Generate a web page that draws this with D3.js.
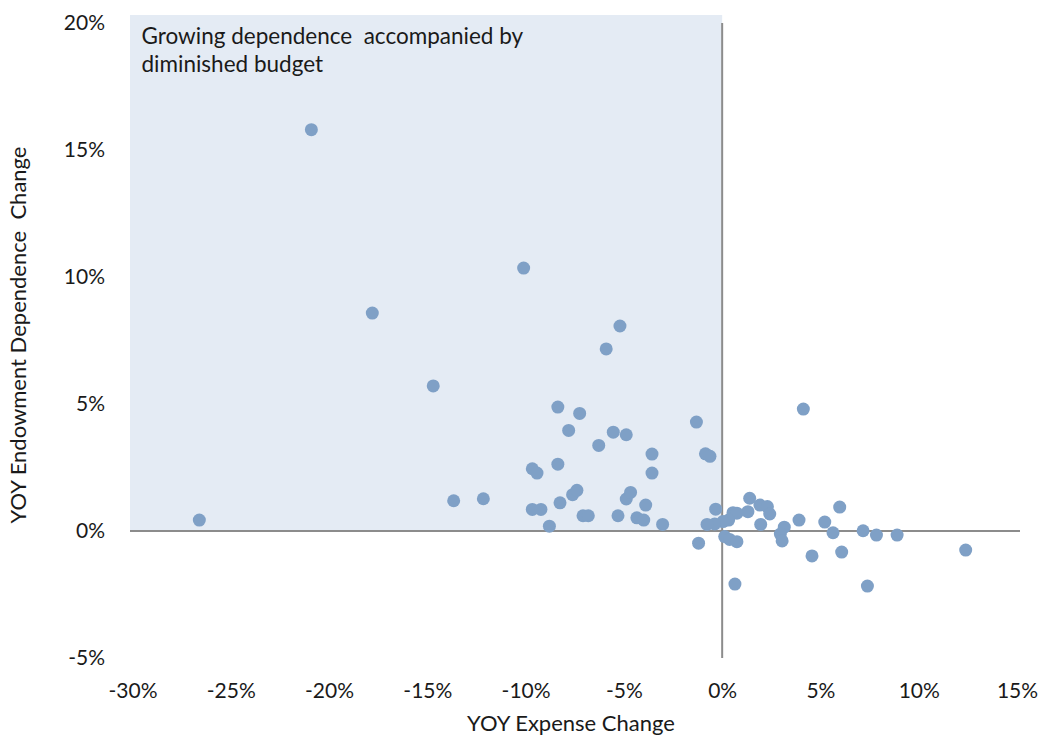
<!DOCTYPE html>
<html><head><meta charset="utf-8">
<script src="https://cdn.jsdelivr.net/npm/d3@7"></script>
<style>body{margin:0;background:#fff}svg{display:block}text{font-family:Lato,"Open Sans",sans-serif;fill:#1a1a1a}</style>
</head><body><svg id="c" width="1043" height="736"></svg>
<script>
const expenseChange = [-26.6,-20.9,-17.8,-14.7,-13.66,-12.15,-10.1,-5.2,-5.9,-8.36,-7.25,-7.81,-5.54,-4.88,-6.28,-3.57,-3.57,-1.31,-0.85,-0.62,-9.66,-9.42,-8.36,-9.66,-9.22,-8.79,-8.25,-7.61,-7.39,-7.08,-6.81,-5.30,-4.88,-4.66,-3.89,-4.34,-3.99,-3.03,-0.33,-1.20,4.13,1.40,1.92,2.30,2.42,1.31,1.96,0.55,0.75,0.33,0.04,-0.38,-0.77,0.13,0.38,0.75,0.65,3.16,2.96,3.05,3.91,4.57,5.22,5.64,5.98,6.08,7.17,7.39,7.85,8.90,12.39];
const dependenceChange = [0.43,15.8,8.58,5.71,1.19,1.27,10.35,8.07,7.17,4.88,4.63,3.96,3.89,3.79,3.37,3.03,2.28,4.29,3.04,2.94,2.45,2.28,2.63,0.85,0.85,0.19,1.11,1.43,1.60,0.60,0.60,0.60,1.26,1.52,1.02,0.52,0.43,0.26,0.86,-0.48,4.80,1.29,1.02,0.96,0.67,0.76,0.26,0.72,0.70,0.43,0.37,0.28,0.26,-0.22,-0.33,-0.42,-2.09,0.15,-0.12,-0.39,0.43,-0.98,0.35,-0.07,0.94,-0.83,0.01,-2.17,-0.16,-0.16,-0.75];
const xTicks = [-30,-25,-20,-15,-10,-5,0,5,10,15];
const yTicks = [-5,0,5,10,15,20];
const annotationLines = ["Growing dependence  accompanied by","diminished budget"];

const svg = d3.select("#c");
const x = d3.scaleLinear().domain([-30,15]).range([132.5,1017]);
const y = d3.scaleLinear().domain([-5,20]).range([658,23]);

// shaded quadrant
svg.append("rect").attr("x",x(-30)-2.5).attr("y",y(20)-8)
  .attr("width",x(0)-x(-30)+2.5).attr("height",y(0)-y(20)+8)
  .attr("fill","#e4ebf4");

// annotation
const ann = svg.append("text").attr("x",x(-30)+9).attr("y",44).style("font-size","22.5px");
annotationLines.forEach((l,i)=>ann.append("tspan").attr("x",x(-30)+9).attr("dy",i?28:0).attr("xml:space","preserve").text(l));

// zero lines
svg.append("line").attr("x1",x(-30)-2.5).attr("x2",x(15)+3).attr("y1",y(0)).attr("y2",y(0))
  .attr("stroke","#8c8c8c").attr("stroke-width",2);
svg.append("line").attr("x1",x(0)).attr("x2",x(0)).attr("y1",y(20)).attr("y2",y(-5))
  .attr("stroke","#8c8c8c").attr("stroke-width",2);

// axes (labels only)
const xAxis = svg.append("g").attr("transform",`translate(0,${y(-5)+22})`)
  .call(d3.axisBottom(x).tickValues(xTicks).tickSize(0).tickFormat(d=>d+"%"));
xAxis.select(".domain").remove();
xAxis.selectAll("text").style("font-size","21px").attr("fill","#1a1a1a");

const yAxis = svg.append("g").attr("transform",`translate(105,0)`)
  .call(d3.axisLeft(y).tickValues(yTicks).tickSize(0).tickPadding(0).tickFormat(d=>d+"%"));
yAxis.select(".domain").remove();
yAxis.selectAll("text").style("font-size","21px").attr("fill","#1a1a1a");

// points
const pts = expenseChange.map((v,i)=>[v,dependenceChange[i]]);
svg.append("g").selectAll("circle").data(pts).join("circle")
  .attr("cx",d=>x(d[0])).attr("cy",d=>y(d[1])).attr("r",6.5)
  .attr("fill","#7fa0c6");

// axis titles
svg.append("text").attr("x",571).attr("y",731).attr("text-anchor","middle")
  .style("font-size","22px").attr("xml:space","preserve").text("YOY Expense Change");
svg.append("text").attr("transform","translate(26,335) rotate(-90)").attr("text-anchor","middle")
  .style("font-size","22px").attr("xml:space","preserve").text("YOY Endowment Dependence  Change");
</script></body></html>
